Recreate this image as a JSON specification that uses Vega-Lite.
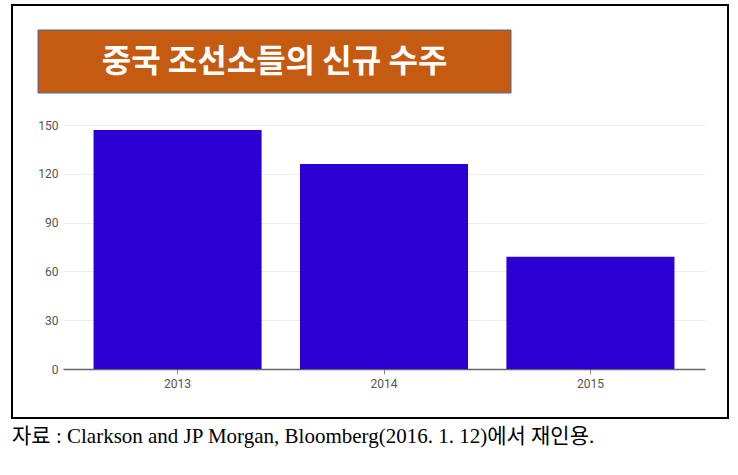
{
  "$schema": "https://vega.github.io/schema/vega-lite/v6.json",
  "width": 716,
  "height": 413,
  "autosize": {"type": "none"},
  "padding": {"left": 12, "top": 5, "right": 10, "bottom": 57},
  "background": "white",
  "config": {"view": {"stroke": "black", "strokeWidth": 2}, "font": "Roboto"},
  "title": {
    "text": "자료 : Clarkson and JP Morgan, Bloomberg(2016. 1. 12)에서 재인용.",
    "orient": "bottom",
    "anchor": "start",
    "frame": "group",
    "baseline": "top",
    "font": "Liberation Serif, Noto Sans CJK KR",
    "fontSize": 21,
    "fontWeight": "normal",
    "color": "black",
    "offset": 8
  },
  "layer": [
    {
      "data": {"values": [
        {"year": "2013", "orders": 147},
        {"year": "2014", "orders": 126},
        {"year": "2015", "orders": 69}
      ]},
      "mark": {"type": "bar", "color": "#2A00D4"},
      "encoding": {
        "x": {
          "field": "year", "type": "ordinal",
          "scale": {"range": [51, 693], "paddingInner": 0.186, "paddingOuter": 0.148},
          "axis": {"title": null, "offset": -49, "labelAngle": 0, "domainColor": "#666666", "domainWidth": 1.5, "tickColor": "#888888", "tickSize": 5, "labelColor": "#555555", "labelFontSize": 12, "labelPadding": 4, "grid": false}
        },
        "y": {
          "field": "orders", "type": "quantitative",
          "scale": {"domain": [0, 150], "range": [364, 120], "nice": false},
          "axis": {"title": null, "offset": -51, "values": [0, 30, 60, 90, 120, 150], "domain": false, "ticks": false, "labelColor": "#555555", "labelFontSize": 12, "labelPadding": 5, "gridColor": "#eeeeee"}
        }
      }
    },
    {
      "data": {"values": [{"label": "중국 조선소들의 신규 수주"}]},
      "layer": [
        {
          "mark": {"type": "rect", "fill": "#C55A11", "stroke": "#41719C", "strokeWidth": 1},
          "encoding": {
            "x": {"datum": 0, "type": "quantitative", "scale": {"domain": [0, 1], "range": [26, 499]}, "axis": null},
            "x2": {"datum": 1},
            "y": {"datum": 0, "type": "quantitative", "scale": {"domain": [0, 1], "range": [25, 88]}, "axis": null},
            "y2": {"datum": 1}
          }
        },
        {
          "mark": {"type": "text", "color": "white", "fontSize": 32, "fontWeight": "bold", "font": "Noto Sans CJK KR", "align": "center", "baseline": "middle"},
          "encoding": {
            "x": {"datum": 0.5, "type": "quantitative", "scale": {"domain": [0, 1], "range": [26, 499]}, "axis": null},
            "y": {"datum": 0.5, "type": "quantitative", "scale": {"domain": [0, 1], "range": [25, 88]}, "axis": null},
            "text": {"field": "label"}
          }
        }
      ]
    }
  ],
  "resolve": {"scale": {"x": "independent", "y": "independent"}, "axis": {"x": "independent", "y": "independent"}}
}
